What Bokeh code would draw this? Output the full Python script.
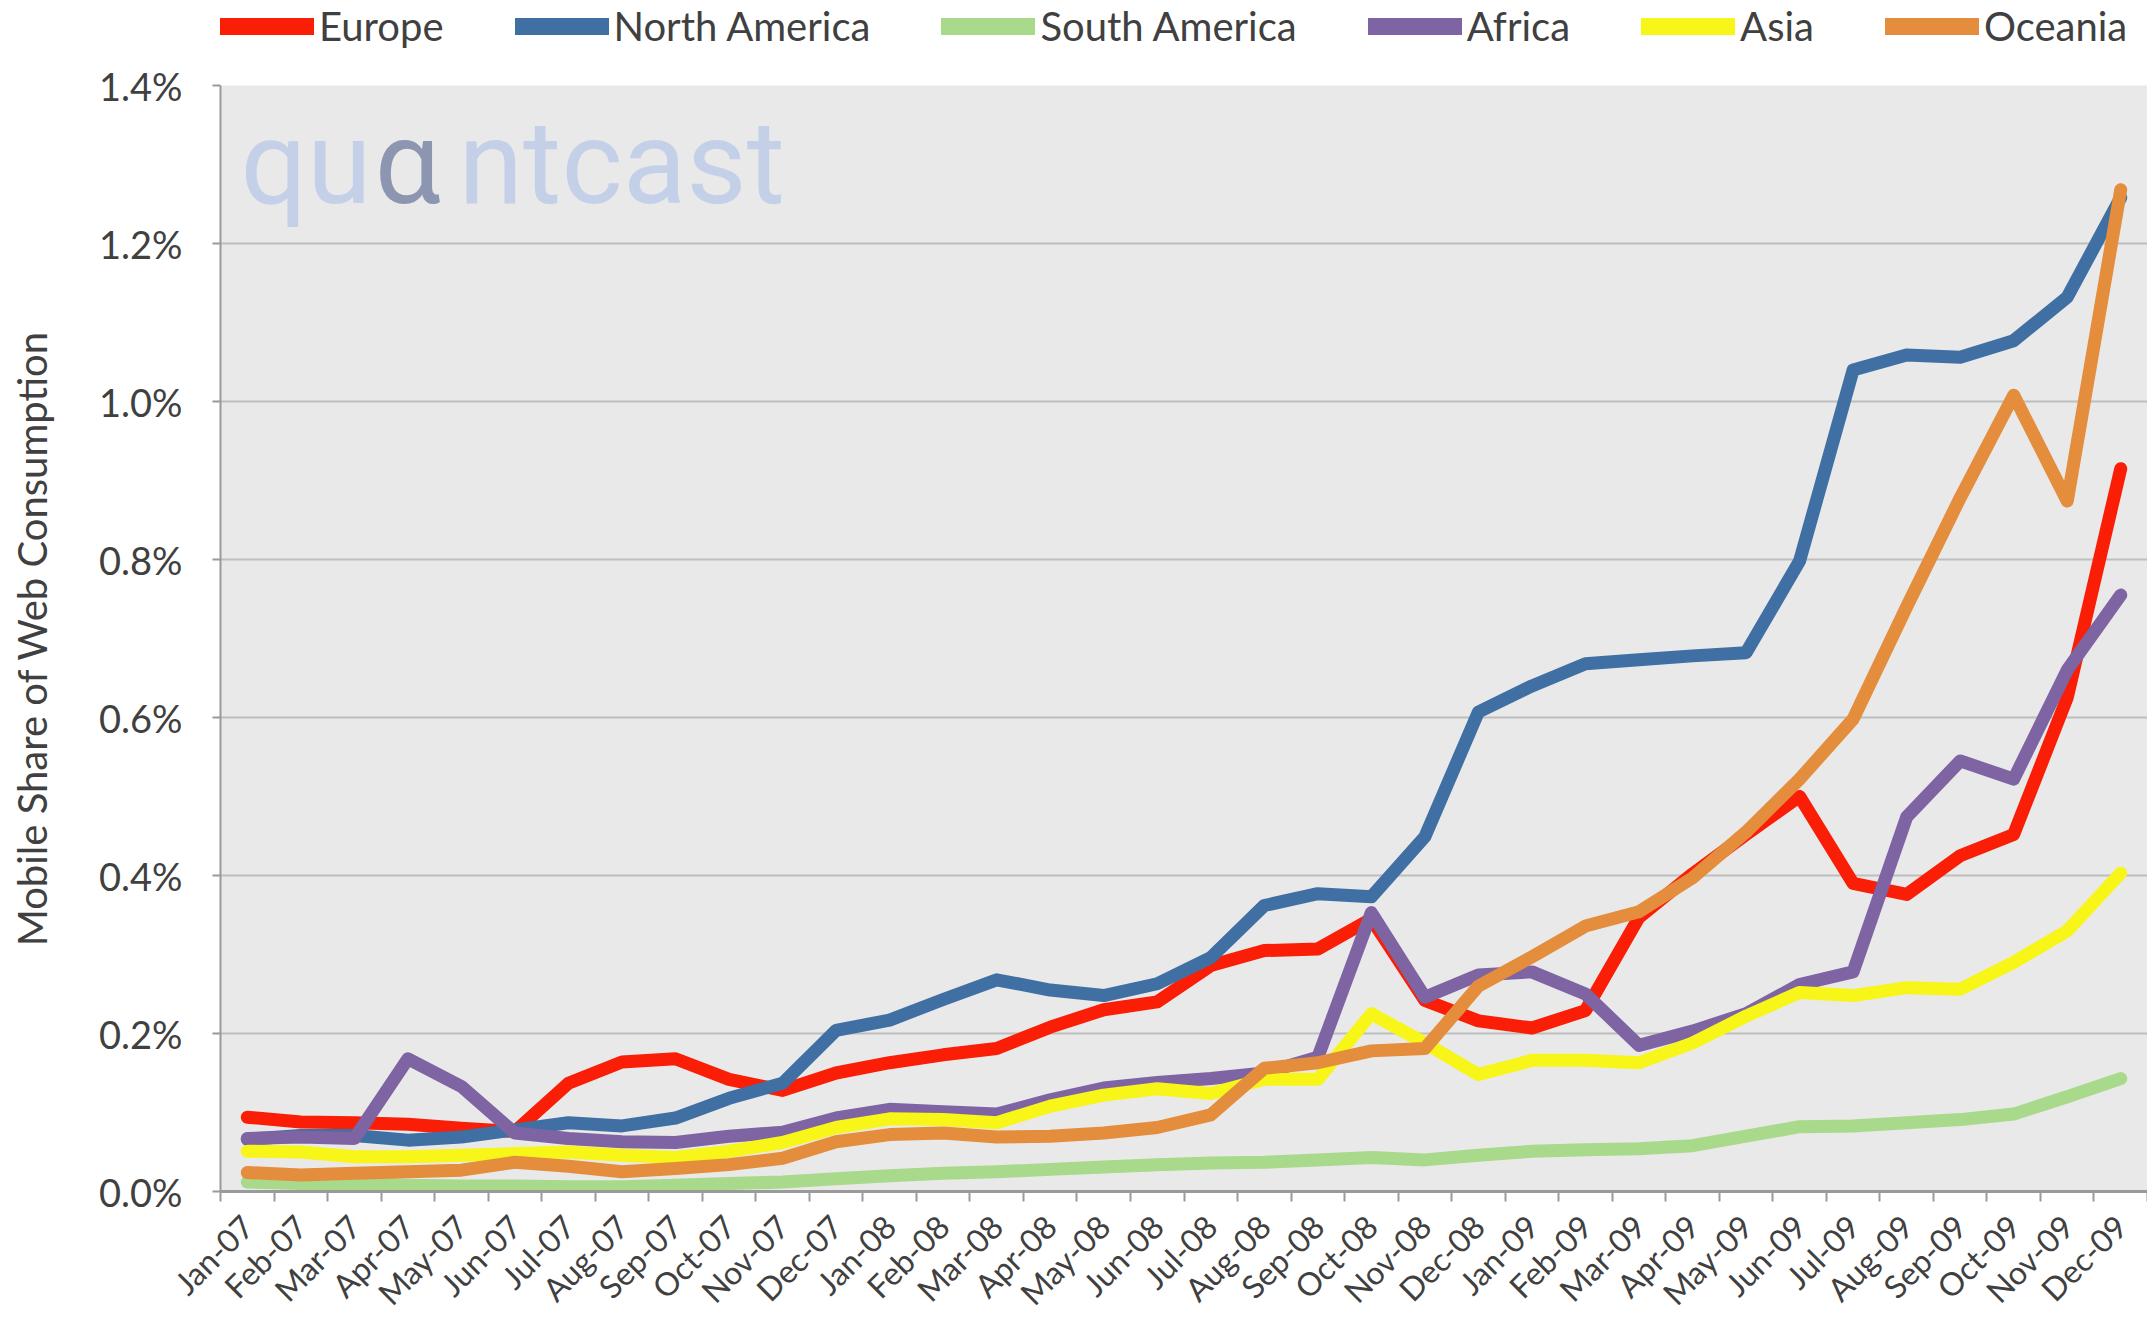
import numpy as np
from bokeh.plotting import figure
from bokeh.layouts import column
from bokeh.models import Range1d, FixedTicker, PrintfTickFormatter, Legend, LegendItem, Label
from bokeh.embed import file_html
from bokeh.resources import INLINE

# ---------------- data (mobile share of web consumption, %) ----------------
months = ["Jan-07", "Feb-07", "Mar-07", "Apr-07", "May-07", "Jun-07", "Jul-07", "Aug-07",
          "Sep-07", "Oct-07", "Nov-07", "Dec-07", "Jan-08", "Feb-08", "Mar-08", "Apr-08",
          "May-08", "Jun-08", "Jul-08", "Aug-08", "Sep-08", "Oct-08", "Nov-08", "Dec-08",
          "Jan-09", "Feb-09", "Mar-09", "Apr-09", "May-09", "Jun-09", "Jul-09", "Aug-09",
          "Sep-09", "Oct-09", "Nov-09", "Dec-09"]

europe = [0.094, 0.088, 0.087, 0.085, 0.080, 0.076, 0.137, 0.164, 0.168, 0.142, 0.128, 0.150,
          0.163, 0.173, 0.181, 0.208, 0.230, 0.240, 0.286, 0.305, 0.307, 0.345, 0.242, 0.216,
          0.207, 0.229, 0.347, 0.402, 0.452, 0.500, 0.390, 0.376, 0.425, 0.452, 0.625, 0.915]

north_america = [0.066, 0.071, 0.071, 0.065, 0.069, 0.078, 0.087, 0.083, 0.093, 0.118, 0.137, 0.204,
                 0.217, 0.243, 0.268, 0.255, 0.248, 0.263, 0.296, 0.362, 0.377, 0.373, 0.449, 0.607,
                 0.640, 0.668, 0.673, 0.678, 0.682, 0.798, 1.040, 1.059, 1.056, 1.077, 1.132, 1.258]

south_america = [0.012, 0.010, 0.010, 0.008, 0.007, 0.007, 0.006, 0.006, 0.008, 0.010, 0.012, 0.016,
                 0.020, 0.023, 0.025, 0.028, 0.031, 0.034, 0.036, 0.037, 0.040, 0.043, 0.040, 0.046,
                 0.051, 0.053, 0.054, 0.058, 0.070, 0.082, 0.083, 0.087, 0.091, 0.098, 0.120, 0.143]

africa = [0.067, 0.069, 0.067, 0.168, 0.133, 0.074, 0.067, 0.063, 0.062, 0.070, 0.075, 0.093,
          0.104, 0.101, 0.098, 0.116, 0.131, 0.138, 0.143, 0.150, 0.170, 0.353, 0.246, 0.274,
          0.278, 0.250, 0.185, 0.203, 0.225, 0.262, 0.278, 0.474, 0.545, 0.522, 0.660, 0.755]

asia = [0.051, 0.050, 0.044, 0.044, 0.046, 0.048, 0.050, 0.046, 0.043, 0.051, 0.062, 0.081,
        0.092, 0.091, 0.087, 0.108, 0.122, 0.130, 0.124, 0.142, 0.142, 0.225, 0.188, 0.148,
        0.166, 0.166, 0.163, 0.188, 0.222, 0.252, 0.248, 0.258, 0.256, 0.290, 0.330, 0.403]

oceania = [0.024, 0.021, 0.023, 0.025, 0.027, 0.037, 0.032, 0.025, 0.029, 0.034, 0.042, 0.063,
           0.072, 0.074, 0.069, 0.070, 0.074, 0.081, 0.097, 0.156, 0.163, 0.178, 0.181, 0.260,
           0.297, 0.336, 0.354, 0.397, 0.455, 0.522, 0.598, 0.740, 0.878, 1.008, 0.874, 1.268]

series_names = ["Europe", "North America", "South America", "Africa", "Asia", "Oceania"]
series_values = [europe, north_america, south_america, africa, asia, oceania]
series_colors = ["#F91E05", "#3F6FA3", "#A9D98B", "#7E64A3", "#F8F518", "#E38D3D"]

y_ticks = [0.0, 0.2, 0.4, 0.6, 0.8, 1.0, 1.2, 1.4]
watermark = ["qu", "\u03b1", "ntcast"]

# ---------------- layout constants ----------------
W = 2147
LEG_H = 60
FONT = "Lato"
TXT = "#404040"
n = len(months)
xc = np.arange(n) + 0.5          # category centres (ticks sit between categories)

# ---------------- main plot ----------------
p = figure(width=W, height=1270, output_backend="svg", toolbar_location=None,
           x_range=Range1d(0, n), y_range=Range1d(0, 1.4),
           min_border_left=220, min_border_top=25, min_border_bottom=139, min_border_right=0)
p.background_fill_color = "#E9E9E9"
p.border_fill_color = "white"
p.outline_line_color = None

p.xaxis.ticker = FixedTicker(ticks=list(xc), minor_ticks=list(range(n + 1)))
p.xaxis.major_label_overrides = {float(v): m for v, m in zip(xc, months)}
p.xaxis.major_tick_line_color = None
p.xaxis.minor_tick_line_color = "#9A9A9A"
p.xaxis.minor_tick_line_width = 2
p.xaxis.minor_tick_out = 10
p.xaxis.minor_tick_in = 0
p.xaxis.axis_line_color = "#9A9A9A"
p.xaxis.axis_line_width = 3
p.xaxis.major_label_orientation = np.pi / 4
p.xaxis.major_label_text_font = FONT
p.xaxis.major_label_text_font_size = "32px"
p.xaxis.major_label_text_color = TXT
p.xaxis.major_label_standoff = 19
p.xgrid.grid_line_color = None

p.yaxis.ticker = FixedTicker(ticks=y_ticks)
p.yaxis.formatter = PrintfTickFormatter(format="%.1f%%")
p.yaxis.major_tick_out = 8
p.yaxis.major_tick_in = 0
p.yaxis.major_tick_line_color = "#9A9A9A"
p.yaxis.major_tick_line_width = 2
p.yaxis.minor_tick_line_color = None
p.yaxis.axis_line_color = "#9A9A9A"
p.yaxis.axis_line_width = 2
p.yaxis.major_label_text_font = FONT
p.yaxis.major_label_text_font_size = "38px"
p.yaxis.major_label_text_color = TXT
p.yaxis.major_label_standoff = 30
p.yaxis.axis_label = "Mobile Share of Web Consumption"
p.yaxis.axis_label_text_font = FONT
p.yaxis.axis_label_text_font_size = "40px"
p.yaxis.axis_label_text_font_style = "normal"
p.yaxis.axis_label_text_color = TXT
p.yaxis.axis_label_standoff = 40
p.ygrid.grid_line_color = "#BEBEBE"
p.ygrid.grid_line_width = 2

# watermark (screen units, relative to the plot frame)
wm_x = [20, 154, 238]
wm_colors = ["#C3D0E8", "#8C96B0", "#C3D0E8"]
for t, xx, c in zip(watermark, wm_x, wm_colors):
    p.add_layout(Label(x=xx, y=1029, x_units="screen", y_units="screen", text=t,
                       text_font="Roboto", text_font_size="117px", text_color=c,
                       text_baseline="alphabetic", text_align="left"))

for vals, col in zip(series_values, series_colors):
    p.line(xc, vals, line_color=col, line_width=13, line_join="round", line_cap="round")

# ---------------- legend strip above the plot ----------------
leg = figure(width=W, height=LEG_H, output_backend="svg", toolbar_location=None,
             x_axis_type=None, y_axis_type=None, x_range=Range1d(0, 1), y_range=Range1d(0, 1),
             min_border=0)
leg.outline_line_color = None
leg.background_fill_color = "white"
leg.border_fill_color = "white"
items = []
for name, col in zip(series_names, series_colors):
    # legend proxy: a single off-range point, so only the legend swatch is visible
    r = leg.line(x=[0.5], y=[-5.0], line_color=col, line_width=17, line_cap="round")
    items.append(LegendItem(label=name, renderers=[r]))
legend = Legend(items=items, orientation="horizontal", location=(0, 10),
                padding=0, margin=0, spacing=71, glyph_width=94, glyph_height=24,
                label_standoff=5, label_text_font=FONT, label_text_font_size="40px",
                label_text_color=TXT, border_line_color=None, background_fill_alpha=0)
leg.add_layout(legend)

layout = column(leg, p, spacing=0)
open("out.html", "w").write(file_html(layout, INLINE))
